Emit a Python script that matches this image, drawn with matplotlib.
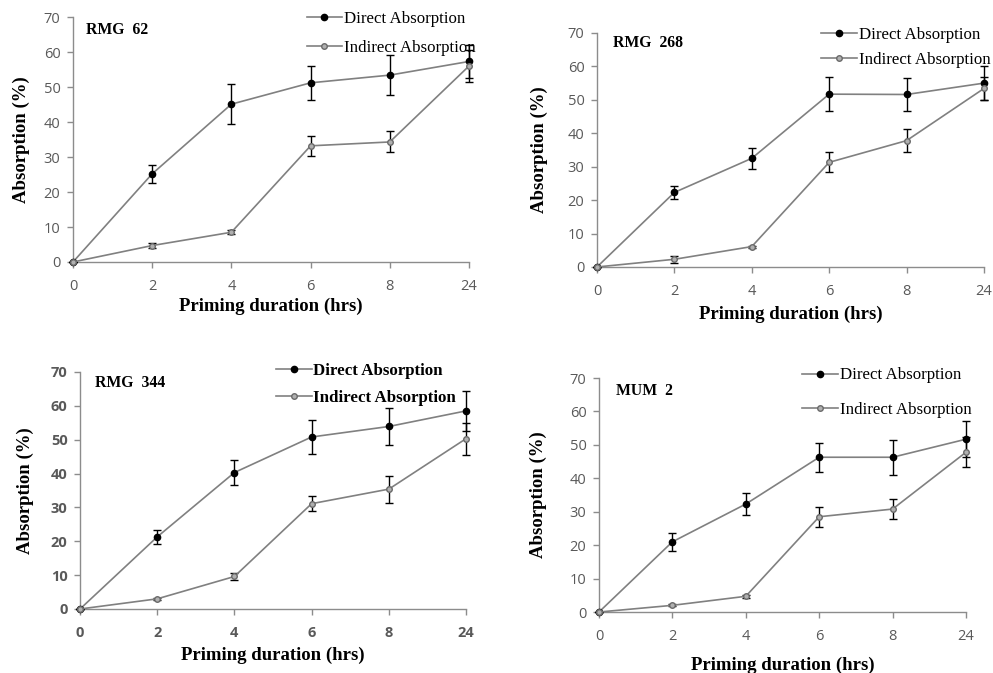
import numpy as np
import matplotlib.pyplot as plt

# priming durations (categorical x positions)
hours = ["0", "2", "4", "6", "8", "24"]

# RMG 62
rmg62_direct = [0, 25.2, 45.1, 51.2, 53.4, 57.3]
rmg62_direct_err = [0, 2.5, 5.8, 4.8, 5.8, 4.8]
rmg62_indirect = [0, 4.7, 8.5, 33.2, 34.3, 56.0]
rmg62_indirect_err = [0, 0.7, 0.6, 2.8, 3.0, 4.5]

# RMG 268
rmg268_direct = [0, 22.3, 32.5, 51.7, 51.6, 55.0]
rmg268_direct_err = [0, 2.0, 3.1, 5.0, 5.0, 5.0]
rmg268_indirect = [0, 2.3, 6.1, 31.3, 37.8, 53.4]
rmg268_indirect_err = [0, 1.1, 0.3, 3.0, 3.5, 3.4]

# RMG 344
rmg344_direct = [0, 21.3, 40.3, 50.8, 53.9, 58.5]
rmg344_direct_err = [0, 2.0, 3.7, 5.1, 5.4, 6.0]
rmg344_indirect = [0, 3.0, 9.6, 31.1, 35.4, 50.3]
rmg344_indirect_err = [0, 0.3, 1.0, 2.2, 4.0, 4.7]

# MUM 2
mum2_direct = [0, 21.0, 32.3, 46.3, 46.3, 51.7]
mum2_direct_err = [0, 2.6, 3.4, 4.4, 5.2, 5.3]
mum2_indirect = [0, 2.0, 4.7, 28.5, 30.8, 47.8]
mum2_indirect_err = [0, 0.3, 0.5, 3.0, 3.0, 4.5]

panels = [
    # name, direct, derr, indirect, ierr, axes rect, title pos, legend anchor,
    # labelspacing, bold ticks, ylabel pad, xlabel pad
    ("RMG  62", rmg62_direct, rmg62_direct_err, rmg62_indirect, rmg62_indirect_err,
     [0.0735, 0.6107, 0.3988, 0.3640], (0.033, 0.947), (0.573, 1.051), 0.72, False, 10, 3),
    ("RMG  268", rmg268_direct, rmg268_direct_err, rmg268_indirect, rmg268_indirect_err,
     [0.6012, 0.6033, 0.3897, 0.3477], (0.041, 0.957), (0.562, 1.056), 0.55, False, 14, 5),
    ("RMG  344", rmg344_direct, rmg344_direct_err, rmg344_indirect, rmg344_indirect_err,
     [0.0806, 0.0951, 0.3887, 0.3522], (0.039, 0.954), (0.49, 1.065), 0.6, True, 12, 5),
    ("MUM  2", mum2_direct, mum2_direct_err, mum2_indirect, mum2_indirect_err,
     [0.6032, 0.0906, 0.3696, 0.3477], (0.046, 0.944), (0.536, 1.074), 1.1, False, 16, 9),
]

serif = "Liberation Serif"
sans = "Open Sans"
line_gray = "#808080"
tick_gray = "#595959"

fig = plt.figure(figsize=(9.93, 6.73), dpi=100)
x = np.arange(len(hours))

for name, d, de, ind, ie, rect, tpos, lpos, lspace, bold, ypad, xpad in panels:
    ax = fig.add_axes(rect)
    ax.errorbar(x, d, yerr=de, color=line_gray, lw=1.2, marker="o", ms=4.5,
                mfc="black", mec="black", ecolor="black", elinewidth=1,
                capsize=3, capthick=1, clip_on=False, zorder=3,
                label="Direct Absorption")
    ax.errorbar(x, ind, yerr=ie, color=line_gray, lw=1.2, marker="o", ms=4,
                mfc="#b0b0b0", mec="#6a6a6a", ecolor="black", elinewidth=1,
                capsize=3, capthick=1, clip_on=False, zorder=3,
                label="Indirect Absorption")

    ax.set_xlim(0, 5)
    ax.set_ylim(0, 70)
    ax.set_xticks(x)
    ax.set_xticklabels(hours)
    ax.set_yticks(range(0, 71, 10))
    for s in ["top", "right"]:
        ax.spines[s].set_visible(False)
    for s in ["left", "bottom"]:
        ax.spines[s].set_color("#8c8c8c")
        ax.spines[s].set_linewidth(1)
    ax.tick_params(colors="#8c8c8c", labelcolor=tick_gray, length=4, width=1,
                   labelsize=10.5)
    ax.tick_params(axis="x", pad=8)
    ax.tick_params(axis="y", pad=5)
    for lab in ax.get_xticklabels() + ax.get_yticklabels():
        lab.set_family(sans)
        if bold:
            lab.set_fontweight("bold")

    ax.set_xlabel("Priming duration (hrs)", family=serif, fontweight="bold",
                  fontsize=13.5, labelpad=xpad)
    ax.set_ylabel("Absorption (%)", family=serif, fontweight="bold",
                  fontsize=13.5, labelpad=ypad)
    ax.text(tpos[0], tpos[1], name, transform=ax.transAxes, family=serif,
            fontweight="bold", fontsize=11.3, va="center", ha="left")

    h, l = ax.get_legend_handles_labels()
    h = [hh[0] for hh in h]
    ax.legend(h, l, loc="upper left", bbox_to_anchor=lpos, frameon=False,
              handlelength=2.1, handletextpad=0.1, labelspacing=lspace,
              borderaxespad=0,
              prop={"family": serif, "size": 12.2,
                    "weight": "bold" if bold else "normal"})

fig.savefig("out.png", dpi=100, facecolor="white")
